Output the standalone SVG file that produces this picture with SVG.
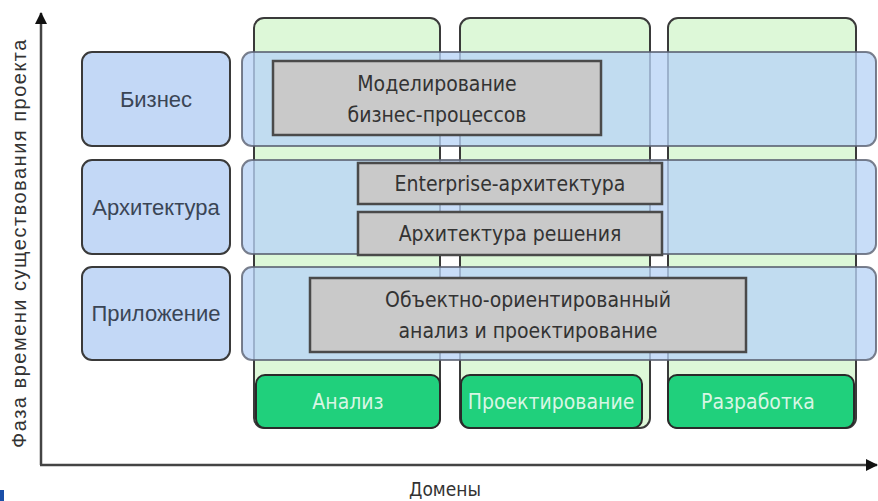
<svg xmlns="http://www.w3.org/2000/svg" width="878" height="501" viewBox="0 0 878 501">
<defs>
<style>
.col{fill:#ddf8d8;stroke:#3a3a3a;stroke-width:2}
.band{fill:#b8d4f6;fill-opacity:0.78;stroke:#5a6070;stroke-opacity:0.8;stroke-width:2}
.lab{fill:#c3d8f6;stroke:#3a3a3a;stroke-width:2}
.gray{fill:#c9c9c9;stroke:#4a4a4a;stroke-width:2.5}
.btn{fill:#20d07c;stroke:#2a2a2a;stroke-width:2}
.t{font-family:"Liberation Sans Narrow","DejaVu Sans Condensed","Liberation Sans",sans-serif;font-size:21px;fill:#333;text-anchor:middle}
.tl{font-family:"Liberation Sans","DejaVu Sans",sans-serif;font-size:22px;fill:#3a4555;text-anchor:middle}
.tb{font-family:"Liberation Sans Narrow","DejaVu Sans Condensed","Liberation Sans",sans-serif;font-size:21px;fill:#d8f6e4;text-anchor:middle}
.ax{stroke:#444;stroke-width:2.5;fill:none}
</style>
<marker id="arr" markerWidth="12" markerHeight="12" viewBox="0 0 12 12" refX="11" refY="6" orient="auto" markerUnits="userSpaceOnUse">
<path d="M0,0 L12,6 L0,12 z" fill="#111"/>
</marker>
</defs>
<rect width="878" height="501" fill="#ffffff"/>

<g id="connectors">
<line class="ax" x1="41" y1="465" x2="41" y2="13" marker-end="url(#arr)"/>
<line class="ax" x1="40" y1="465" x2="877" y2="465" marker-end="url(#arr)"/>
</g>

<g id="col-analysis"><rect class="col" x="254" y="18" width="186" height="410" rx="10"/></g>
<g id="col-design"><rect class="col" x="460" y="18" width="190" height="410" rx="10"/></g>
<g id="col-dev"><rect class="col" x="668" y="18" width="188" height="410" rx="10"/></g>

<g id="btn-analysis"><rect class="btn" x="256" y="375" width="184" height="53" rx="9"/><text class="tb" x="348" y="409">Анализ</text></g>
<g id="btn-design"><rect class="btn" x="461" y="375" width="181" height="53" rx="9"/><text class="tb" x="551" y="409">Проектирование</text></g>
<g id="btn-dev"><rect class="btn" x="668" y="375" width="186" height="53" rx="9"/><text class="tb" x="758" y="409">Разработка</text></g>

<g id="band-business"><rect class="band" x="242" y="52" width="634" height="94" rx="10"/></g>
<g id="band-arch"><rect class="band" x="242" y="160" width="634" height="94" rx="10"/></g>
<g id="band-app"><rect class="band" x="242" y="267" width="634" height="93" rx="10"/></g>

<g id="label-business"><rect class="lab" x="82" y="52" width="148" height="94" rx="10"/><text class="tl" x="156" y="107">Бизнес</text></g>
<g id="label-arch"><rect class="lab" x="82" y="160" width="148" height="94" rx="10"/><text class="tl" x="156" y="215">Архитектура</text></g>
<g id="label-app"><rect class="lab" x="82" y="267" width="148" height="93" rx="10"/><text class="tl" x="156" y="321">Приложение</text></g>

<g id="box-bpm"><rect class="gray" x="273" y="61" width="328" height="74"/><text class="t" x="437" y="91">Моделирование</text><text class="t" x="437" y="122">бизнес-процессов</text></g>
<g id="box-ea"><rect class="gray" x="358" y="163" width="304" height="41"/><text class="t" x="510" y="191">Enterprise-архитектура</text></g>
<g id="box-sa"><rect class="gray" x="358" y="212" width="304" height="43"/><text class="t" x="510" y="241">Архитектура решения</text></g>
<g id="box-ooad"><rect class="gray" x="310" y="278" width="436" height="74"/><text class="t" x="528" y="307">Объектно-ориентированный</text><text class="t" x="528" y="338">анализ и проектирование</text></g>

<text class="tl" x="0" y="0" transform="translate(26,243) rotate(-90)" style="fill:#333;font-size:20px;letter-spacing:1.5px">Фаза времени существования проекта</text>
<text class="t" x="445" y="496" style="font-size:19px">Домены</text>
<rect x="0" y="490" width="4" height="11" fill="#1a4fa8"/>
</svg>
